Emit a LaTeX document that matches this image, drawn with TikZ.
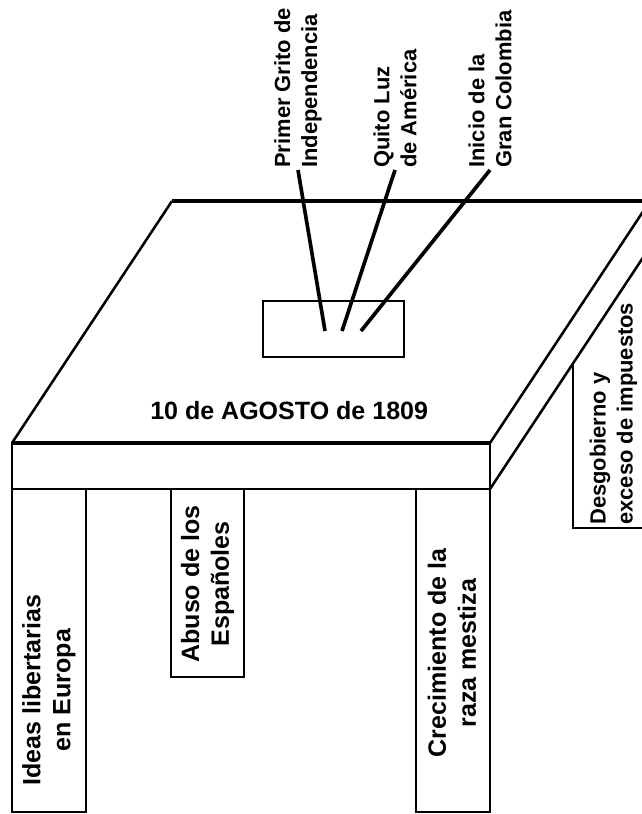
\documentclass[tikz,border=0pt]{standalone}
\usepackage{fontspec}
\setmainfont{Liberation Sans}
\usetikzlibrary{positioning}

\begin{document}
\begin{tikzpicture}[x=0.025cm,y=-0.025cm,
  edge/.style={line width=1.8pt},
  legbox/.style={line width=1.5pt},
  tag/.style={font=\bfseries\fontsize{15.6}{19.2}\selectfont,inner sep=1.4pt},
  bigtag/.style={font=\bfseries\fontsize{17.8}{21.3}\selectfont,inner sep=1.4pt},
  uptag/.style={tag,rotate=90,align=left,anchor=west},
  legtag/.style={bigtag,rotate=90,align=center},
  hubbox/.style={draw,line width=1.4pt,inner sep=0pt,minimum width=3.525cm,minimum height=1.4cm},
  link/.style={line width=2.6pt}]
\useasboundingbox (0,0) rectangle (642,814);
\clip (0,0) rectangle (642,814);
% tablero
\draw[line width=2.6pt] (172,201) -- (650,201);
\draw[edge] (172,201) -- (12,443);
\draw[edge] (650,201) -- (490,443);
\draw[edge] (490,489) -- (650,247);
\draw[legbox] (12,489) -- (12,443) -- (490,443) -- (490,489) -- cycle;
\draw[line width=2.2pt] (12,443) -- (490,443);
% patas
\draw[legbox] (12,489) rectangle (86,812);
\draw[legbox] (171,489) rectangle (244,677);
\draw[legbox] (416,489) rectangle (490,812);
\draw[legbox] (573,362) -- (573,528) -- (650,528);
% textos
\node[bigtag,anchor=west] (fecha) at (148,411) {10 de AGOSTO de 1809};
\node[legtag] (ideas) at (49,690) {Ideas libertarias\\en Europa};
\node[legtag] (abuso) at (207.5,584) {Abuso de los\\Espa\~noles};
\node[legtag] (mestiza) at (452,653) {Crecimiento de la\\raza mestiza};
\node[uptag] (desgob) at (613.5,527) {Desgobierno y\\exceso de impuestos};
% recuadro central y etiquetas de arriba
\node[hubbox] (hub) at (333.5,329) {};
\node[uptag] (grito) at (298,170) {Primer Grito de\\Independencia};
\node[uptag] (luz) at (395,170) {Quito Luz\\de Am\'erica};
\node[uptag] (gran) at (490,170) {Inicio de la\\Gran Colombia};
\coordinate (e1) at (325,331);
\coordinate (e2) at (342,331);
\coordinate (e3) at (361,331);
\draw[link] (grito.west) -- (e1);
\draw[link] (luz.west) -- (e2);
\draw[link] (gran.west) -- (e3);
\end{tikzpicture}
\end{document}
